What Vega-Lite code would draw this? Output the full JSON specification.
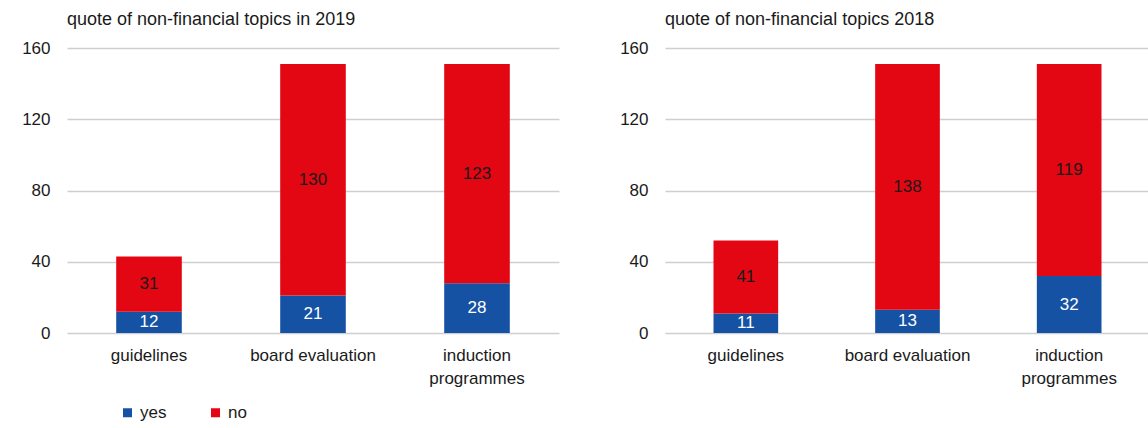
{
  "$schema": "https://vega.github.io/schema/vega-lite/v6.json",
  "padding": {"left": 21, "top": 11, "right": 0, "bottom": 0},
  "background": "white",
  "spacing": 60,
  "data": {
    "values": [
      {"panel": "2019", "topic": "guidelines", "answer": "yes", "count": 12},
      {"panel": "2019", "topic": "guidelines", "answer": "no", "count": 31},
      {"panel": "2019", "topic": "board evaluation", "answer": "yes", "count": 21},
      {"panel": "2019", "topic": "board evaluation", "answer": "no", "count": 130},
      {"panel": "2019", "topic": "induction programmes", "answer": "yes", "count": 28},
      {"panel": "2019", "topic": "induction programmes", "answer": "no", "count": 123},
      {"panel": "2018", "topic": "guidelines", "answer": "yes", "count": 11},
      {"panel": "2018", "topic": "guidelines", "answer": "no", "count": 41},
      {"panel": "2018", "topic": "board evaluation", "answer": "yes", "count": 13},
      {"panel": "2018", "topic": "board evaluation", "answer": "no", "count": 138},
      {"panel": "2018", "topic": "induction programmes", "answer": "yes", "count": 32},
      {"panel": "2018", "topic": "induction programmes", "answer": "no", "count": 119}
    ]
  },
  "hconcat": [
    {
      "width": 492,
      "height": 285,
      "title": {"text": "quote of non-financial topics in 2019"},
      "transform": [
        {"filter": "datum.panel == '2019'"},
        {"stack": "count", "groupby": ["topic"], "sort": [{"field": "answer", "order": "descending"}], "as": ["y0", "y1"]}
      ],
      "encoding": {
        "x": {"field": "topic", "type": "nominal", "sort": ["guidelines", "board evaluation", "induction programmes"], "scale": {"paddingInner": 0.6, "paddingOuter": 0.3}}
      },
      "layer": [
        {
          "mark": {"type": "bar"},
          "encoding": {
            "y": {"field": "y1", "type": "quantitative", "scale": {"domain": [0, 160], "nice": false}, "axis": {"values": [0, 40, 80, 120, 160]}},
            "y2": {"field": "y0"},
            "color": {"field": "answer", "type": "nominal", "scale": {"domain": ["yes", "no"], "range": ["#1652a4", "#e30613"]}, "legend": {"title": null, "orient": "none", "legendX": 52, "legendY": 356, "direction": "horizontal"}}
          }
        },
        {
          "transform": [
            {"fold": ["y0", "y1"], "as": ["k", "pos"]},
            {"aggregate": [{"op": "mean", "field": "pos", "as": "mid"}], "groupby": ["topic", "answer", "count"]}
          ],
          "mark": {"type": "text", "baseline": "middle", "fontSize": 17, "font": "Liberation Sans"},
          "encoding": {
            "y": {"field": "mid", "type": "quantitative"},
            "text": {"field": "count", "type": "quantitative"},
            "color": {"condition": {"test": "datum.answer == 'yes'", "value": "#ffffff"}, "value": "#1a1a1a"}
          }
        }
      ]
    },
    {
      "width": 485,
      "height": 285,
      "title": {"text": "quote of non-financial topics 2018"},
      "transform": [
        {"filter": "datum.panel == '2018'"},
        {"stack": "count", "groupby": ["topic"], "sort": [{"field": "answer", "order": "descending"}], "as": ["y0", "y1"]}
      ],
      "encoding": {
        "x": {"field": "topic", "type": "nominal", "sort": ["guidelines", "board evaluation", "induction programmes"], "scale": {"paddingInner": 0.6, "paddingOuter": 0.3}}
      },
      "layer": [
        {
          "mark": {"type": "bar"},
          "encoding": {
            "y": {"field": "y1", "type": "quantitative", "scale": {"domain": [0, 160], "nice": false}, "axis": {"values": [0, 40, 80, 120, 160]}},
            "y2": {"field": "y0"},
            "color": {"field": "answer", "type": "nominal", "scale": {"domain": ["yes", "no"], "range": ["#1652a4", "#e30613"]}}
          }
        },
        {
          "transform": [
            {"fold": ["y0", "y1"], "as": ["k", "pos"]},
            {"aggregate": [{"op": "mean", "field": "pos", "as": "mid"}], "groupby": ["topic", "answer", "count"]}
          ],
          "mark": {"type": "text", "baseline": "middle", "fontSize": 17, "font": "Liberation Sans"},
          "encoding": {
            "y": {"field": "mid", "type": "quantitative"},
            "text": {"field": "count", "type": "quantitative"},
            "color": {"condition": {"test": "datum.answer == 'yes'", "value": "#ffffff"}, "value": "#1a1a1a"}
          }
        }
      ]
    }
  ],
  "config": {
    "view": {"stroke": null},
    "font": "Liberation Sans",
    "title": {"anchor": "start", "frame": "group", "fontSize": 18, "fontWeight": "normal", "font": "Liberation Sans", "color": "#1a1a1a", "offset": 10},
    "axisY": {"domain": false, "ticks": false, "labelPadding": 17, "minExtent": 45, "maxExtent": 45, "gridColor": "#cfcfcf", "gridWidth": 1.5, "title": null, "labelFontSize": 17, "labelFont": "Liberation Sans", "labelColor": "#1a1a1a"},
    "axisX": {"title": null, "labelAngle": 0, "domain": false, "ticks": false, "grid": false, "labelPadding": 14, "labelBaseline": "top", "labelLineHeight": 23, "labelFontSize": 17, "labelFont": "Liberation Sans", "labelColor": "#1a1a1a", "labelExpr": "datum.label == 'induction programmes' ? ['induction', 'programmes'] : datum.label"},
    "legend": {"symbolType": "square", "symbolSize": 81, "symbolStrokeWidth": 0, "labelFontSize": 17, "labelFont": "Liberation Sans", "labelColor": "#1a1a1a", "labelOffset": 4, "columnPadding": 40, "symbolOpacity": 1}
  }
}
